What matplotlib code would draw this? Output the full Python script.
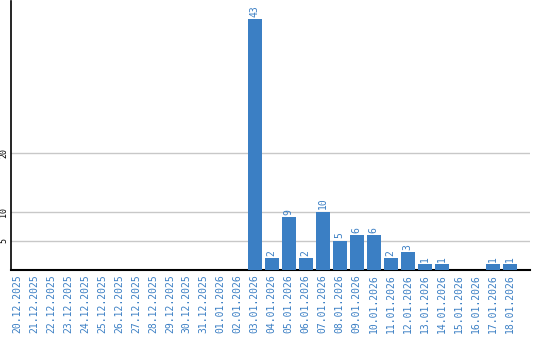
import matplotlib
matplotlib.use("Agg")
import matplotlib.pyplot as plt

dates = ["20.12.2025", "21.12.2025", "22.12.2025", "23.12.2025", "24.12.2025",
         "25.12.2025", "26.12.2025", "27.12.2025", "28.12.2025", "29.12.2025",
         "30.12.2025", "31.12.2025", "01.01.2026", "02.01.2026", "03.01.2026",
         "04.01.2026", "05.01.2026", "06.01.2026", "07.01.2026", "08.01.2026",
         "09.01.2026", "10.01.2026", "11.01.2026", "12.01.2026", "13.01.2026",
         "14.01.2026", "15.01.2026", "16.01.2026", "17.01.2026", "18.01.2026"]
values = [0, 0, 0, 0, 0, 0, 0, 0, 0, 0, 0, 0, 0, 0, 43,
          2, 9, 2, 10, 5, 6, 6, 2, 3, 1, 1, 0, 0, 1, 1]
yticks = [5, 10, 20]

blue = "#3b7fc4"
fig = plt.figure(figsize=(5.4, 3.4), dpi=100)
ax = fig.add_axes([11/540, 1 - 270/340, (530 - 11)/540, 0.79])
x = list(range(len(dates)))
ax.bar(x, values, width=0.82, color=blue, zorder=3)
for xi, v in zip(x, values):
    if v > 0:
        ax.text(xi, v + 0.4, str(v), rotation=90, ha="center", va="bottom",
                color=blue, fontsize=7, family="DejaVu Sans Mono")
ax.set_xlim(-0.35, 30.2)
ax.set_ylim(0, 46)
ax.set_yticks(yticks)
ax.set_yticklabels([str(t) for t in yticks], rotation=90, va="center",
                   fontsize=6, family="DejaVu Sans Mono")
ax.yaxis.grid(True, color="#c8c8c8", linewidth=1, zorder=0)
ax.set_xticks(x)
ax.set_xticklabels(dates, rotation=90, fontsize=7, color=blue,
                   family="DejaVu Sans Mono")
ax.tick_params(axis="both", length=0, pad=3)
ax.tick_params(axis="y", pad=2)
for s in ["top", "right"]:
    ax.spines[s].set_visible(False)
ax.spines["left"].set_color("black")
ax.spines["bottom"].set_color("black")
ax.spines["bottom"].set_linewidth(1.5)
ax.spines["left"].set_linewidth(1.2)
fig.savefig("out.png", dpi=100)
